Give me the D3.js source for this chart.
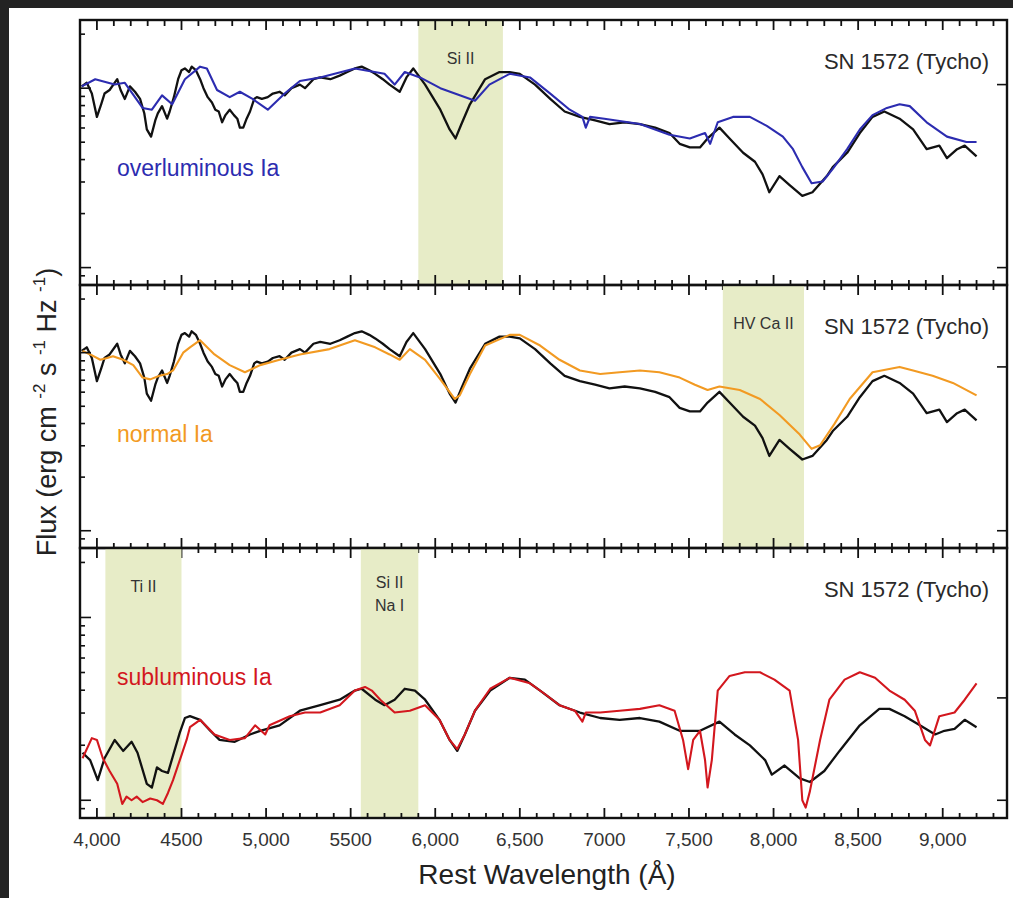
<!DOCTYPE html>
<html><head><meta charset="utf-8">
<script src="https://cdn.jsdelivr.net/npm/d3@7"></script>
<style>html,body{margin:0;padding:0;background:#232323;} svg{display:block;}</style>
</head><body>
<svg id="c" width="1013" height="898"></svg>
<script>
// Wavelength (Å) and log10 relative flux
const tycho = [[3910,1.01],[3940,1.03],[3970,0.97],[4000,0.84],[4025,0.91],[4045,0.97],[4075,0.99],[4120,1.05],[4140,0.99],[4165,0.94],[4195,1.01],[4225,0.98],[4255,0.94],[4280,0.86],[4295,0.77],[4320,0.73],[4345,0.82],[4360,0.86],[4385,0.90],[4415,0.83],[4430,0.87],[4455,0.95],[4480,1.05],[4500,1.10],[4520,1.11],[4545,1.09],[4560,1.12],[4585,1.10],[4610,1.05],[4630,1.00],[4655,0.95],[4680,0.92],[4700,0.88],[4720,0.87],[4740,0.81],[4760,0.85],[4785,0.88],[4810,0.85],[4830,0.83],[4845,0.78],[4865,0.78],[4885,0.83],[4905,0.87],[4930,0.94],[4945,0.95],[4975,0.94],[5010,0.95],[5040,0.97],[5080,0.98],[5110,0.96],[5150,1.00],[5200,1.02],[5230,1.00],[5280,1.05],[5320,1.06],[5380,1.05],[5435,1.07],[5480,1.09],[5525,1.11],[5565,1.12],[5610,1.10],[5645,1.08],[5690,1.05],[5730,1.02],[5790,0.98],[5830,1.06],[5870,1.11],[5940,1.02],[6030,0.88],[6085,0.77],[6120,0.72],[6155,0.80],[6205,0.91],[6295,1.05],[6380,1.09],[6440,1.09],[6500,1.08],[6590,1.02],[6680,0.94],[6765,0.87],[6855,0.84],[6945,0.82],[7030,0.80],[7120,0.81],[7210,0.80],[7300,0.78],[7385,0.75],[7445,0.69],[7505,0.67],[7565,0.67],[7610,0.72],[7680,0.78],[7740,0.72],[7820,0.64],[7890,0.59],[7935,0.52],[7975,0.42],[8035,0.51],[8095,0.46],[8170,0.40],[8230,0.42],[8315,0.51],[8350,0.56],[8435,0.64],[8510,0.75],[8585,0.84],[8655,0.87],[8745,0.83],[8825,0.77],[8905,0.66],[8980,0.68],[9025,0.61],[9085,0.66],[9130,0.68],[9200,0.62]];
const overluminous = [[3910,1.01],[3990,1.05],[4105,1.02],[4165,1.03],[4270,0.89],[4325,0.88],[4385,0.96],[4445,0.91],[4520,1.05],[4610,1.12],[4650,1.11],[4710,0.99],[4785,0.95],[4845,0.98],[4920,0.94],[5010,0.88],[5110,0.97],[5200,1.04],[5320,1.06],[5525,1.11],[5700,1.08],[5760,1.02],[5820,1.09],[5910,1.06],[6030,1.00],[6145,0.96],[6235,0.93],[6320,1.02],[6440,1.08],[6560,1.06],[6680,0.97],[6795,0.88],[6870,0.84],[6890,0.78],[6915,0.84],[7000,0.83],[7210,0.80],[7385,0.74],[7505,0.72],[7595,0.75],[7625,0.69],[7670,0.81],[7760,0.84],[7860,0.84],[7960,0.79],[8055,0.73],[8115,0.66],[8170,0.56],[8225,0.47],[8290,0.48],[8350,0.55],[8435,0.66],[8510,0.77],[8585,0.85],[8670,0.89],[8745,0.91],[8805,0.90],[8905,0.81],[9025,0.73],[9140,0.70],[9200,0.70]];
const normal = [[3915,1.01],[3960,0.99],[4020,0.96],[4060,0.97],[4095,0.98],[4155,0.96],[4215,0.93],[4270,0.86],[4315,0.85],[4370,0.87],[4415,0.88],[4450,0.90],[4510,1.00],[4550,1.03],[4610,1.07],[4695,0.99],[4785,0.93],[4875,0.89],[4965,0.93],[5080,0.96],[5200,0.99],[5375,1.02],[5525,1.07],[5645,1.03],[5730,0.99],[5790,0.96],[5850,1.02],[5940,0.96],[6030,0.85],[6115,0.74],[6145,0.76],[6205,0.88],[6295,1.04],[6440,1.10],[6500,1.10],[6620,1.04],[6735,0.96],[6855,0.90],[6975,0.88],[7090,0.89],[7210,0.90],[7325,0.89],[7445,0.86],[7535,0.82],[7610,0.79],[7680,0.81],[7800,0.79],[7920,0.74],[8035,0.65],[8155,0.54],[8225,0.46],[8275,0.48],[8360,0.60],[8450,0.74],[8585,0.89],[8745,0.92],[8825,0.90],[8940,0.87],[9060,0.83],[9200,0.76]];
const tychoScaled = [[3915,0.26],[3960,0.22],[4005,0.11],[4045,0.23],[4105,0.33],[4155,0.27],[4205,0.32],[4240,0.26],[4295,0.09],[4325,0.07],[4355,0.18],[4385,0.16],[4420,0.15],[4490,0.37],[4520,0.45],[4550,0.46],[4610,0.44],[4670,0.38],[4725,0.33],[4815,0.32],[4905,0.36],[4965,0.38],[5080,0.41],[5200,0.49],[5320,0.52],[5435,0.55],[5525,0.60],[5565,0.61],[5645,0.55],[5700,0.52],[5760,0.55],[5820,0.61],[5880,0.60],[5940,0.55],[6025,0.44],[6085,0.33],[6130,0.27],[6175,0.36],[6235,0.49],[6325,0.60],[6440,0.67],[6530,0.66],[6620,0.60],[6735,0.52],[6855,0.48],[6975,0.45],[7090,0.44],[7210,0.45],[7325,0.43],[7445,0.38],[7565,0.38],[7680,0.43],[7770,0.36],[7860,0.30],[7950,0.22],[7990,0.14],[8065,0.19],[8155,0.12],[8215,0.10],[8300,0.16],[8390,0.27],[8510,0.41],[8625,0.50],[8685,0.50],[8775,0.46],[8865,0.41],[8955,0.36],[9010,0.38],[9070,0.39],[9130,0.44],[9200,0.40]];
const subluminous = [[3915,0.23],[3970,0.34],[4000,0.33],[4035,0.23],[4075,0.16],[4120,0.09],[4150,-0.02],[4175,0.02],[4205,0.00],[4235,0.02],[4270,-0.01],[4315,0.01],[4355,0.00],[4390,-0.02],[4420,0.04],[4450,0.11],[4490,0.22],[4530,0.33],[4550,0.40],[4610,0.44],[4695,0.36],[4785,0.33],[4875,0.34],[4935,0.41],[4995,0.36],[5020,0.41],[5140,0.46],[5230,0.48],[5320,0.48],[5435,0.52],[5525,0.60],[5585,0.62],[5625,0.60],[5675,0.55],[5760,0.48],[5850,0.49],[5940,0.52],[6025,0.44],[6085,0.33],[6130,0.28],[6175,0.36],[6235,0.49],[6325,0.61],[6440,0.67],[6560,0.64],[6650,0.58],[6735,0.52],[6825,0.49],[6870,0.43],[6890,0.48],[6975,0.48],[7090,0.49],[7210,0.50],[7325,0.52],[7415,0.49],[7465,0.33],[7495,0.17],[7525,0.33],[7565,0.38],[7595,0.22],[7610,0.07],[7635,0.22],[7670,0.60],[7740,0.68],[7830,0.70],[7920,0.70],[8005,0.66],[8095,0.60],[8145,0.33],[8170,0.00],[8190,-0.04],[8215,0.05],[8275,0.33],[8330,0.55],[8420,0.66],[8510,0.70],[8600,0.67],[8685,0.60],[8775,0.55],[8835,0.49],[8895,0.33],[8925,0.30],[8980,0.46],[9070,0.48],[9130,0.55],[9200,0.64]];

const xMajor = [4000,4500,5000,5500,6000,6500,7000,7500,8000,8500,9000];
const xLabels = ["4,000","4500","5,000","5500","6,000","6,500","7000","7,500","8,000","8,500","9,000"];
const bandsTop = [{from:5900,to:6400,text:["Si II"]}];
const bandsMid = [{from:7700,to:8180,text:["HV Ca II"]}];
const bandsBot = [{from:4050,to:4500,text:["Ti II"]},{from:5560,to:5900,text:["Si II","Na I"]}];
const seriesNames = ["overluminous Ia","normal Ia","subluminous Ia"];
const rightTickValues = [[0,1.02],[0,0.92],[0,0.56]];

const svg = d3.select("#c");
svg.append("rect").attr("x",9).attr("y",8).attr("width",1004).attr("height",890).attr("fill","#fff");

const x = d3.scaleLinear().domain([3900,9380]).range([80,1007]);
const yDomain = [-0.097,1.38];

const panels = [
  {top:20,bottom:285,ref:tycho,cmp:overluminous,color:"#2c2cb0",bands:bandsTop,name:seriesNames[0],nameDy:156,rt:rightTickValues[0]},
  {top:285,bottom:548,ref:tycho,cmp:normal,color:"#f29a22",bands:bandsMid,name:seriesNames[1],nameDy:157,rt:rightTickValues[1]},
  {top:548,bottom:818,ref:tychoScaled,cmp:subluminous,color:"#d3171e",bands:bandsBot,name:seriesNames[2],nameDy:137,rt:rightTickValues[2]}
];

const minorX = d3.range(3900,9400,100).filter(v=>v%500!==0);
const logTicks = [];
for (let n=-1;n<=1;n++) for (let k=1;k<=9;k++){const t=n+Math.log10(k); if(t>=yDomain[0]&&t<=yDomain[1]) logTicks.push({v:t,major:k===1});}

panels.forEach((p,i)=>{
  const y = d3.scaleLinear().domain(yDomain).range([p.bottom,p.top]);
  const g = svg.append("g");
  const cid = "clip"+i;
  svg.append("clipPath").attr("id",cid).append("rect").attr("x",80).attr("y",p.top).attr("width",927).attr("height",p.bottom-p.top);
  p.bands.forEach(b=>{
    g.append("rect").attr("x",x(b.from)).attr("y",p.top).attr("width",x(b.to)-x(b.from)).attr("height",p.bottom-p.top).attr("fill","#e7ecc7");
    b.text.forEach((t,j)=>{
      g.append("text").attr("x",(x(b.from)+x(b.to))/2).attr("y",p.top+(b.text.length>1?40:44)+j*23)
       .attr("text-anchor","middle").attr("font-family","'Liberation Sans Narrow','Liberation Sans',Arial,sans-serif")
       .attr("font-size",16).attr("fill","#333").text(t);
    });
  });
  const line = d3.line().x(d=>x(d[0])).y(d=>y(d[1]));
  const lg = g.append("g").attr("clip-path",`url(#${cid})`);
  lg.append("path").datum(p.ref).attr("d",line).attr("fill","none").attr("stroke","#111").attr("stroke-width",2.3).attr("stroke-linejoin","round");
  lg.append("path").datum(p.cmp).attr("d",line).attr("fill","none").attr("stroke",p.color).attr("stroke-width",2.1).attr("stroke-linejoin","round");
  g.append("text").attr("x",117).attr("y",p.top+p.nameDy).attr("font-family","'Liberation Sans',Arial,sans-serif").attr("font-size",23).attr("fill",p.color).text(p.name);
  g.append("text").attr("x",989).attr("y",p.top+49).attr("text-anchor","end").attr("font-family","'Liberation Sans',Arial,sans-serif").attr("font-size",22).attr("fill","#2a2a2a").text("SN 1572 (Tycho)");
  logTicks.forEach(t=>{
    g.append("line").attr("x1",80).attr("x2",80+(t.major?11:5)).attr("y1",y(t.v)).attr("y2",y(t.v)).attr("stroke","#111").attr("stroke-width",1.6);
  });
  p.rt.forEach(v=>{
    g.append("line").attr("x1",1007).attr("x2",997).attr("y1",y(v)).attr("y2",y(v)).attr("stroke","#111").attr("stroke-width",1.6);
  });
  g.append("rect").attr("x",80).attr("y",p.top).attr("width",927).attr("height",p.bottom-p.top).attr("fill","none").attr("stroke","#111").attr("stroke-width",2.4);
  const last = i===panels.length-1;
  const tick = (v,len)=> g.append("line").attr("x1",x(v)).attr("x2",x(v)).attr("y1",p.bottom-len).attr("y2",p.bottom+(last?0:len)).attr("stroke","#111").attr("stroke-width",1.8);
  xMajor.forEach(v=>tick(v,10));
  minorX.forEach(v=>tick(v,5));
  if(i===0){
    xMajor.forEach(v=>g.append("line").attr("x1",x(v)).attr("x2",x(v)).attr("y1",p.top).attr("y2",p.top+10).attr("stroke","#111").attr("stroke-width",1.8));
    minorX.forEach(v=>g.append("line").attr("x1",x(v)).attr("x2",x(v)).attr("y1",p.top).attr("y2",p.top+6).attr("stroke","#111").attr("stroke-width",1.8));
  }
});

xMajor.forEach((v,i)=>{
  svg.append("text").attr("x",x(v)).attr("y",846).attr("text-anchor","middle").attr("font-family","'Liberation Sans',Arial,sans-serif").attr("font-size",19).attr("fill","#333").text(xLabels[i]);
});
svg.append("text").attr("x",547).attr("y",884).attr("text-anchor","middle").attr("font-family","'Liberation Sans',Arial,sans-serif").attr("font-size",28).attr("fill","#222").text("Rest Wavelength (Å)");

const yl = svg.append("text").attr("transform","translate(56,412) rotate(-90)").attr("text-anchor","middle").attr("font-family","'Liberation Sans',Arial,sans-serif").attr("font-size",27).attr("fill","#222");
yl.append("tspan").text("Flux (erg cm ");
yl.append("tspan").attr("font-size",17).attr("dy",-11).text("-2");
yl.append("tspan").attr("dy",11).text(" s ");
yl.append("tspan").attr("font-size",17).attr("dy",-11).text("-1");
yl.append("tspan").attr("dy",11).text(" Hz ");
yl.append("tspan").attr("font-size",17).attr("dy",-11).text("-1");
yl.append("tspan").attr("dy",11).text(")");
</script>
</body></html>
